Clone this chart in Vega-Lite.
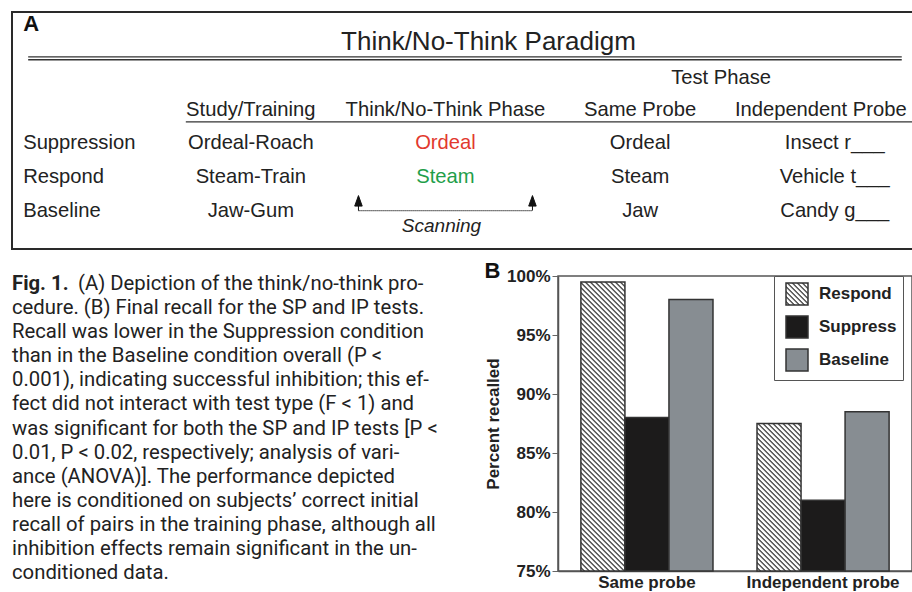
{
  "$schema": "https://vega.github.io/schema/vega-lite/v6.json",
  "background": "white",
  "padding": {"left": 11, "top": 11, "right": 0, "bottom": 0},
  "params": [
    {"name": "stripes", "value": [
      {"offset":0.00,"color":"#fff"},{"offset":0.0035,"color":"#fff"},{"offset":0.007,"color":"#222"},
      {"offset":0.01,"color":"#fff"},{"offset":0.0135,"color":"#fff"},{"offset":0.017,"color":"#222"},
      {"offset":0.02,"color":"#fff"},{"offset":0.0235,"color":"#fff"},{"offset":0.027,"color":"#222"},
      {"offset":0.03,"color":"#fff"},{"offset":0.0335,"color":"#fff"},{"offset":0.037,"color":"#222"},
      {"offset":0.04,"color":"#fff"},{"offset":0.0435,"color":"#fff"},{"offset":0.047,"color":"#222"},
      {"offset":0.05,"color":"#fff"},{"offset":0.0535,"color":"#fff"},{"offset":0.057,"color":"#222"},
      {"offset":0.06,"color":"#fff"},{"offset":0.0635,"color":"#fff"},{"offset":0.067,"color":"#222"},
      {"offset":0.07,"color":"#fff"},{"offset":0.0735,"color":"#fff"},{"offset":0.077,"color":"#222"},
      {"offset":0.08,"color":"#fff"},{"offset":0.0835,"color":"#fff"},{"offset":0.087,"color":"#222"},
      {"offset":0.09,"color":"#fff"},{"offset":0.0935,"color":"#fff"},{"offset":0.097,"color":"#222"},
      {"offset":0.10,"color":"#fff"},{"offset":0.1035,"color":"#fff"},{"offset":0.107,"color":"#222"},
      {"offset":0.11,"color":"#fff"},{"offset":0.1135,"color":"#fff"},{"offset":0.117,"color":"#222"},
      {"offset":0.12,"color":"#fff"},{"offset":0.1235,"color":"#fff"},{"offset":0.127,"color":"#222"},
      {"offset":0.13,"color":"#fff"},{"offset":0.1335,"color":"#fff"},{"offset":0.137,"color":"#222"},
      {"offset":0.14,"color":"#fff"},{"offset":0.1435,"color":"#fff"},{"offset":0.147,"color":"#222"},
      {"offset":0.15,"color":"#fff"},{"offset":0.1535,"color":"#fff"},{"offset":0.157,"color":"#222"},
      {"offset":0.16,"color":"#fff"},{"offset":0.1635,"color":"#fff"},{"offset":0.167,"color":"#222"},
      {"offset":0.17,"color":"#fff"},{"offset":0.1735,"color":"#fff"},{"offset":0.177,"color":"#222"},
      {"offset":0.18,"color":"#fff"},{"offset":0.1835,"color":"#fff"},{"offset":0.187,"color":"#222"},
      {"offset":0.19,"color":"#fff"},{"offset":0.1935,"color":"#fff"},{"offset":0.197,"color":"#222"},
      {"offset":0.20,"color":"#fff"},{"offset":0.2035,"color":"#fff"},{"offset":0.207,"color":"#222"},
      {"offset":0.21,"color":"#fff"},{"offset":0.2135,"color":"#fff"},{"offset":0.217,"color":"#222"},
      {"offset":0.22,"color":"#fff"},{"offset":0.2235,"color":"#fff"},{"offset":0.227,"color":"#222"},
      {"offset":0.23,"color":"#fff"},{"offset":0.2335,"color":"#fff"},{"offset":0.237,"color":"#222"},
      {"offset":0.24,"color":"#fff"},{"offset":0.2435,"color":"#fff"},{"offset":0.247,"color":"#222"},
      {"offset":0.25,"color":"#fff"},{"offset":0.2535,"color":"#fff"},{"offset":0.257,"color":"#222"},
      {"offset":0.26,"color":"#fff"},{"offset":0.2635,"color":"#fff"},{"offset":0.267,"color":"#222"},
      {"offset":0.27,"color":"#fff"},{"offset":0.2735,"color":"#fff"},{"offset":0.277,"color":"#222"},
      {"offset":0.28,"color":"#fff"},{"offset":0.2835,"color":"#fff"},{"offset":0.287,"color":"#222"},
      {"offset":0.29,"color":"#fff"},{"offset":0.2935,"color":"#fff"},{"offset":0.297,"color":"#222"},
      {"offset":0.30,"color":"#fff"},{"offset":0.3035,"color":"#fff"},{"offset":0.307,"color":"#222"},
      {"offset":0.31,"color":"#fff"},{"offset":0.3135,"color":"#fff"},{"offset":0.317,"color":"#222"},
      {"offset":0.32,"color":"#fff"},{"offset":0.3235,"color":"#fff"},{"offset":0.327,"color":"#222"},
      {"offset":0.33,"color":"#fff"},{"offset":0.3335,"color":"#fff"},{"offset":0.337,"color":"#222"},
      {"offset":0.34,"color":"#fff"},{"offset":0.3435,"color":"#fff"},{"offset":0.347,"color":"#222"},
      {"offset":0.35,"color":"#fff"},{"offset":0.3535,"color":"#fff"},{"offset":0.357,"color":"#222"},
      {"offset":0.36,"color":"#fff"},{"offset":0.3635,"color":"#fff"},{"offset":0.367,"color":"#222"},
      {"offset":0.37,"color":"#fff"},{"offset":0.3735,"color":"#fff"},{"offset":0.377,"color":"#222"},
      {"offset":0.38,"color":"#fff"},{"offset":0.3835,"color":"#fff"},{"offset":0.387,"color":"#222"},
      {"offset":0.39,"color":"#fff"},{"offset":0.3935,"color":"#fff"},{"offset":0.397,"color":"#222"},
      {"offset":0.40,"color":"#fff"},{"offset":0.4035,"color":"#fff"},{"offset":0.407,"color":"#222"},
      {"offset":0.41,"color":"#fff"},{"offset":0.4135,"color":"#fff"},{"offset":0.417,"color":"#222"},
      {"offset":0.42,"color":"#fff"},{"offset":0.4235,"color":"#fff"},{"offset":0.427,"color":"#222"},
      {"offset":0.43,"color":"#fff"},{"offset":0.4335,"color":"#fff"},{"offset":0.437,"color":"#222"},
      {"offset":0.44,"color":"#fff"},{"offset":0.4435,"color":"#fff"},{"offset":0.447,"color":"#222"},
      {"offset":0.45,"color":"#fff"},{"offset":0.4535,"color":"#fff"},{"offset":0.457,"color":"#222"},
      {"offset":0.46,"color":"#fff"},{"offset":0.4635,"color":"#fff"},{"offset":0.467,"color":"#222"},
      {"offset":0.47,"color":"#fff"},{"offset":0.4735,"color":"#fff"},{"offset":0.477,"color":"#222"},
      {"offset":0.48,"color":"#fff"},{"offset":0.4835,"color":"#fff"},{"offset":0.487,"color":"#222"},
      {"offset":0.49,"color":"#fff"},{"offset":0.4935,"color":"#fff"},{"offset":0.497,"color":"#222"},
      {"offset":0.50,"color":"#fff"},{"offset":0.5035,"color":"#fff"},{"offset":0.507,"color":"#222"},
      {"offset":0.51,"color":"#fff"},{"offset":0.5135,"color":"#fff"},{"offset":0.517,"color":"#222"},
      {"offset":0.52,"color":"#fff"},{"offset":0.5235,"color":"#fff"},{"offset":0.527,"color":"#222"},
      {"offset":0.53,"color":"#fff"},{"offset":0.5335,"color":"#fff"},{"offset":0.537,"color":"#222"},
      {"offset":0.54,"color":"#fff"},{"offset":0.5435,"color":"#fff"},{"offset":0.547,"color":"#222"},
      {"offset":0.55,"color":"#fff"},{"offset":0.5535,"color":"#fff"},{"offset":0.557,"color":"#222"},
      {"offset":0.56,"color":"#fff"},{"offset":0.5635,"color":"#fff"},{"offset":0.567,"color":"#222"},
      {"offset":0.57,"color":"#fff"},{"offset":0.5735,"color":"#fff"},{"offset":0.577,"color":"#222"},
      {"offset":0.58,"color":"#fff"},{"offset":0.5835,"color":"#fff"},{"offset":0.587,"color":"#222"},
      {"offset":0.59,"color":"#fff"},{"offset":0.5935,"color":"#fff"},{"offset":0.597,"color":"#222"},
      {"offset":0.60,"color":"#fff"},{"offset":0.6035,"color":"#fff"},{"offset":0.607,"color":"#222"},
      {"offset":0.61,"color":"#fff"},{"offset":0.6135,"color":"#fff"},{"offset":0.617,"color":"#222"},
      {"offset":0.62,"color":"#fff"},{"offset":0.6235,"color":"#fff"},{"offset":0.627,"color":"#222"},
      {"offset":0.63,"color":"#fff"},{"offset":0.6335,"color":"#fff"},{"offset":0.637,"color":"#222"},
      {"offset":0.64,"color":"#fff"},{"offset":0.6435,"color":"#fff"},{"offset":0.647,"color":"#222"},
      {"offset":0.65,"color":"#fff"},{"offset":0.6535,"color":"#fff"},{"offset":0.657,"color":"#222"},
      {"offset":0.66,"color":"#fff"},{"offset":0.6635,"color":"#fff"},{"offset":0.667,"color":"#222"},
      {"offset":0.67,"color":"#fff"},{"offset":0.6735,"color":"#fff"},{"offset":0.677,"color":"#222"},
      {"offset":0.68,"color":"#fff"},{"offset":0.6835,"color":"#fff"},{"offset":0.687,"color":"#222"},
      {"offset":0.69,"color":"#fff"},{"offset":0.6935,"color":"#fff"},{"offset":0.697,"color":"#222"}
    ]}
  ],
  "config": {"font": "Liberation Sans", "view": {"stroke": null}},
  "spacing": 9,
  "vconcat": [
    {
      "width": 903,
      "height": 237,
      "view": {"stroke": "#2a2a2a", "strokeWidth": 2},
      "data": {"values": [
        {"k": "panel", "row": "title", "col": "label", "t": "A"},
        {"k": "title", "row": "title", "col": "Think", "t": "Think/No-Think Paradigm"},
        {"k": "group", "row": "test", "col": "Same", "t": "Test Phase"},
        {"k": "header", "row": "header", "col": "Study", "t": "Study/Training"},
        {"k": "header", "row": "header", "col": "Think", "t": "Think/No-Think Phase"},
        {"k": "header", "row": "header", "col": "Same", "t": "Same Probe"},
        {"k": "header2", "row": "header", "col": "Indep", "t": "Independent Probe"},
        {"k": "rowlabel", "row": "Suppression", "col": "label", "t": "Suppression"},
        {"k": "cell", "row": "Suppression", "col": "Study", "t": "Ordeal-Roach"},
        {"k": "cell", "row": "Suppression", "col": "Think", "t": "Ordeal"},
        {"k": "cell", "row": "Suppression", "col": "Same", "t": "Ordeal"},
        {"k": "cell", "row": "Suppression", "col": "Indep", "t": "Insect r___"},
        {"k": "rowlabel", "row": "Respond", "col": "label", "t": "Respond"},
        {"k": "cell", "row": "Respond", "col": "Study", "t": "Steam-Train"},
        {"k": "cell", "row": "Respond", "col": "Think", "t": "Steam"},
        {"k": "cell", "row": "Respond", "col": "Same", "t": "Steam"},
        {"k": "cell", "row": "Respond", "col": "Indep", "t": "Vehicle t___"},
        {"k": "rowlabel", "row": "Baseline", "col": "label", "t": "Baseline"},
        {"k": "cell", "row": "Baseline", "col": "Study", "t": "Jaw-Gum"},
        {"k": "cell", "row": "Baseline", "col": "Same", "t": "Jaw"},
        {"k": "cell", "row": "Baseline", "col": "Indep", "t": "Candy g___"},
        {"k": "note", "row": "Baseline", "col": "Think", "t": "Scanning"}
      ]},
      "encoding": {
        "x": {"field": "col", "type": "nominal", "scale": {"type": "point", "domain": ["label", "Study", "Think", "Same", "Indep"], "padding": 0.3196, "align": 0.355}, "axis": null},
        "y": {"field": "row", "type": "nominal", "scale": {"type": "point", "domain": ["title", "test", "header", "Suppression", "Respond", "Baseline"], "padding": 1.0909, "align": 0.44}, "axis": null}
      },
      "layer": [
        {
          "transform": [{"filter": "datum.k === 'rowlabel'"}],
          "mark": {"type": "text", "align": "left", "baseline": "middle", "dx": -33, "fontSize": 20.2, "color": "#222"},
          "encoding": {"text": {"field": "t"}}
        },
        {
          "transform": [{"filter": "datum.k === 'cell' || datum.k === 'header'"}],
          "mark": {"type": "text", "align": "center", "baseline": "middle", "fontSize": 20.2},
          "encoding": {
            "text": {"field": "t"},
            "color": {"condition": [
              {"test": "datum.k === 'cell' && datum.col === 'Think' && datum.row === 'Suppression'", "value": "#e2392e"},
              {"test": "datum.k === 'cell' && datum.col === 'Think' && datum.row === 'Respond'", "value": "#1f9e4a"}
            ], "value": "#222"}
          }
        },
        {
          "transform": [{"filter": "datum.k === 'header2'"}],
          "mark": {"type": "text", "align": "center", "baseline": "middle", "dx": -14, "fontSize": 20.2, "color": "#222"},
          "encoding": {"text": {"field": "t"}}
        },
        {
          "transform": [{"filter": "datum.k === 'group'"}],
          "mark": {"type": "text", "align": "center", "baseline": "middle", "dx": 81, "dy": 2, "fontSize": 20.2, "color": "#222"},
          "encoding": {"text": {"field": "t"}}
        },
        {
          "transform": [{"filter": "datum.k === 'title'"}],
          "mark": {"type": "text", "align": "center", "baseline": "middle", "dx": 43, "fontSize": 26, "color": "#222"},
          "encoding": {"text": {"field": "t"}}
        },
        {
          "transform": [{"filter": "datum.k === 'panel'"}],
          "mark": {"type": "text", "align": "left", "baseline": "middle", "dx": -33, "dy": -18, "fontSize": 22, "fontWeight": "bold", "color": "#111"},
          "encoding": {"text": {"field": "t"}}
        },
        {
          "transform": [{"filter": "datum.k === 'note'"}],
          "mark": {"type": "text", "align": "center", "baseline": "middle", "dx": -4, "dy": 15, "fontSize": 19, "fontStyle": "italic", "color": "#222"},
          "encoding": {"text": {"field": "t"}}
        },
        {
          "transform": [{"filter": "datum.k === 'note'"}],
          "mark": {"type": "rule", "xOffset": -28, "x2Offset": 67, "yOffset": 15.1, "stroke": "#333", "strokeWidth": 1.4},
          "encoding": {"x": {"datum": "label", "type": "nominal"}, "x2": {"datum": "Indep"}, "y": {"datum": "title", "type": "nominal"}}
        },
        {
          "transform": [{"filter": "datum.k === 'note'"}],
          "mark": {"type": "rule", "xOffset": -28, "x2Offset": 67, "yOffset": 17.9, "stroke": "#333", "strokeWidth": 1.4},
          "encoding": {"x": {"datum": "label", "type": "nominal"}, "x2": {"datum": "Indep"}, "y": {"datum": "title", "type": "nominal"}}
        },
        {
          "transform": [{"filter": "datum.k === 'note'"}],
          "mark": {"type": "rule", "xOffset": -65, "x2Offset": 85, "yOffset": 12.3, "stroke": "#333", "strokeWidth": 1.3},
          "encoding": {"x": {"datum": "Study", "type": "nominal"}, "x2": {"datum": "Indep"}, "y": {"datum": "header", "type": "nominal"}}
        },
        {
          "transform": [{"filter": "datum.k === 'note'"}],
          "mark": {"type": "rule", "xOffset": -87, "x2Offset": 87, "yOffset": -0.5, "stroke": "#333", "strokeWidth": 1.2, "strokeDash": [1.2, 0.8]},
          "encoding": {"x": {"datum": "Think", "type": "nominal"}, "x2": {"datum": "Think"}, "y": {"datum": "Baseline", "type": "nominal"}}
        },
        {
          "transform": [{"filter": "datum.k === 'note'"}],
          "mark": {"type": "point", "shape": "M0,0 L0,-0.35 M-0.25,-0.3 L0,-1 L0.25,-0.3 Z", "size": 900, "filled": true, "fill": "#111", "stroke": "#111", "strokeWidth": 1, "opacity": 1, "xOffset": -87, "yOffset": -0.5},
          "encoding": {"x": {"datum": "Think", "type": "nominal"}, "y": {"datum": "Baseline", "type": "nominal"}}
        },
        {
          "transform": [{"filter": "datum.k === 'note'"}],
          "mark": {"type": "point", "shape": "M0,0 L0,-0.35 M-0.25,-0.3 L0,-1 L0.25,-0.3 Z", "size": 900, "filled": true, "fill": "#111", "stroke": "#111", "strokeWidth": 1, "opacity": 1, "xOffset": 87, "yOffset": -0.5},
          "encoding": {"x": {"datum": "Think", "type": "nominal"}, "y": {"datum": "Baseline", "type": "nominal"}}
        }
      ]
    },
    {
      "spacing": 37,
      "hconcat": [
        {
          "width": 434,
          "height": 305,
          "view": {"stroke": null},
          "data": {"values": [
            {"line": 1, "lead": "Fig. 1.", "t": "(A) Depiction of the think/no-think pro-"},
            {"line": 2, "t": "cedure. (B) Final recall for the SP and IP tests."},
            {"line": 3, "t": "Recall was lower in the Suppression condition"},
            {"line": 4, "t": "than in the Baseline condition overall (P <"},
            {"line": 5, "t": "0.001), indicating successful inhibition; this ef-"},
            {"line": 6, "t": "fect did not interact with test type (F < 1) and"},
            {"line": 7, "t": "was significant for both the SP and IP tests [P <"},
            {"line": 8, "t": "0.01, P < 0.02, respectively; analysis of vari-"},
            {"line": 9, "t": "ance (ANOVA)]. The performance depicted"},
            {"line": 10, "t": "here is conditioned on subjects’ correct initial"},
            {"line": 11, "t": "recall of pairs in the training phase, although all"},
            {"line": 12, "t": "inhibition effects remain significant in the un-"},
            {"line": 13, "t": "conditioned data."}
          ]},
          "encoding": {
            "y": {"field": "line", "type": "ordinal", "scale": {"type": "point", "padding": 0.332}, "axis": null},
            "x": {"datum": 0, "type": "quantitative", "scale": {"domain": [0, 1]}, "axis": null}
          },
          "layer": [
            {
              "transform": [{"filter": "datum.line > 1"}],
              "mark": {"type": "text", "align": "left", "baseline": "middle", "font": "Roboto", "fontSize": 20.3, "color": "#222"},
              "encoding": {"text": {"field": "t"}}
            },
            {
              "transform": [{"filter": "datum.line === 1"}],
              "mark": {"type": "text", "align": "left", "baseline": "middle", "dx": 66, "font": "Roboto", "fontSize": 20.3, "color": "#222"},
              "encoding": {"text": {"field": "t"}}
            },
            {
              "transform": [{"filter": "datum.line === 1"}],
              "mark": {"type": "text", "align": "left", "baseline": "middle", "font": "Roboto", "fontSize": 20.3, "fontWeight": "bold", "color": "#222"},
              "encoding": {"text": {"field": "lead"}}
            }
          ]
        },
        {
          "width": 354,
          "height": 295,
          "view": {"stroke": "#555", "strokeWidth": 1.5},
          "title": {"text": "B", "anchor": "start", "frame": "bounds", "font": "Liberation Sans", "fontSize": 22, "fontWeight": "bold", "color": "#111", "offset": -16},
          "data": {"values": [
            {"probe": "Same probe", "cond": "Respond", "value": 99.5},
            {"probe": "Same probe", "cond": "Suppress", "value": 88},
            {"probe": "Same probe", "cond": "Baseline", "value": 98},
            {"probe": "Independent probe", "cond": "Respond", "value": 87.5},
            {"probe": "Independent probe", "cond": "Suppress", "value": 81},
            {"probe": "Independent probe", "cond": "Baseline", "value": 88.5}
          ]},
          "mark": {"type": "bar", "stroke": "#333", "strokeWidth": 1.5},
          "encoding": {
            "x": {"field": "probe", "type": "nominal", "sort": ["Same probe", "Independent probe"], "scale": {"paddingInner": 0.25, "paddingOuter": 0.13},
              "axis": {"title": null, "labelAngle": 0, "ticks": false, "domainColor": "#555", "domainWidth": 1.5, "labelFontSize": 17, "labelFontWeight": "bold", "labelColor": "#222", "labelPadding": 3}},
            "xOffset": {"field": "cond", "type": "nominal", "sort": ["Respond", "Suppress", "Baseline"], "scale": {"paddingInner": 0, "paddingOuter": 0}},
            "y": {"field": "value", "type": "quantitative", "scale": {"domain": [75, 100], "zero": false},
              "axis": {"values": [75, 80, 85, 90, 95, 100], "labelExpr": "datum.value + '%'", "title": "Percent recalled", "titleFontSize": 17, "titleFontWeight": "bold", "titleColor": "#222", "titlePadding": 4,
                "labelFontSize": 17, "labelFontWeight": "bold", "labelColor": "#222", "labelPadding": 2, "tickSize": 6, "tickColor": "#666", "domainColor": "#555", "domainWidth": 1.5, "grid": false}},
            "y2": {"datum": 75},
            "fill": {
              "field": "cond", "type": "nominal",
              "scale": {"domain": ["Respond", "Suppress", "Baseline"], "range": [{"signal": "{gradient: 'linear', x1: 0, y1: 1, x2: 11.3636, y2: -10.3636, stops: stripes}"}, "#1c1b1b", "#878d92"]},
              "legend": {"orient": "none", "legendX": 762, "legendY": 264, "title": null, "direction": "vertical", "symbolType": "square", "symbolSize": 484,
                "symbolStrokeColor": "#333", "symbolStrokeWidth": 1.5, "labelFontSize": 17, "labelFontWeight": "bold", "labelColor": "#222", "labelOffset": 10,
                "labelExpr": "datum.label + '\u00a0\u00a0\u00a0'", "rowPadding": 5, "padding": 6, "symbolOffset": 5, "strokeColor": "#555", "fillColor": "#fff"},
              "condition": [
                {"test": "datum.cond === 'Respond' && datum.probe === 'Same probe'", "value": {"expr": "{gradient: 'linear', x1: 0, y1: 1, x2: 0.25726, y2: -0.69034, stops: stripes}"}},
                {"test": "datum.cond === 'Respond' && datum.probe === 'Independent probe'", "value": {"expr": "{gradient: 'linear', x1: 0, y1: 1, x2: 0.92856, y2: -2.11284, stops: stripes}"}}
              ]
            }
          }
        }
      ]
    }
  ]
}
